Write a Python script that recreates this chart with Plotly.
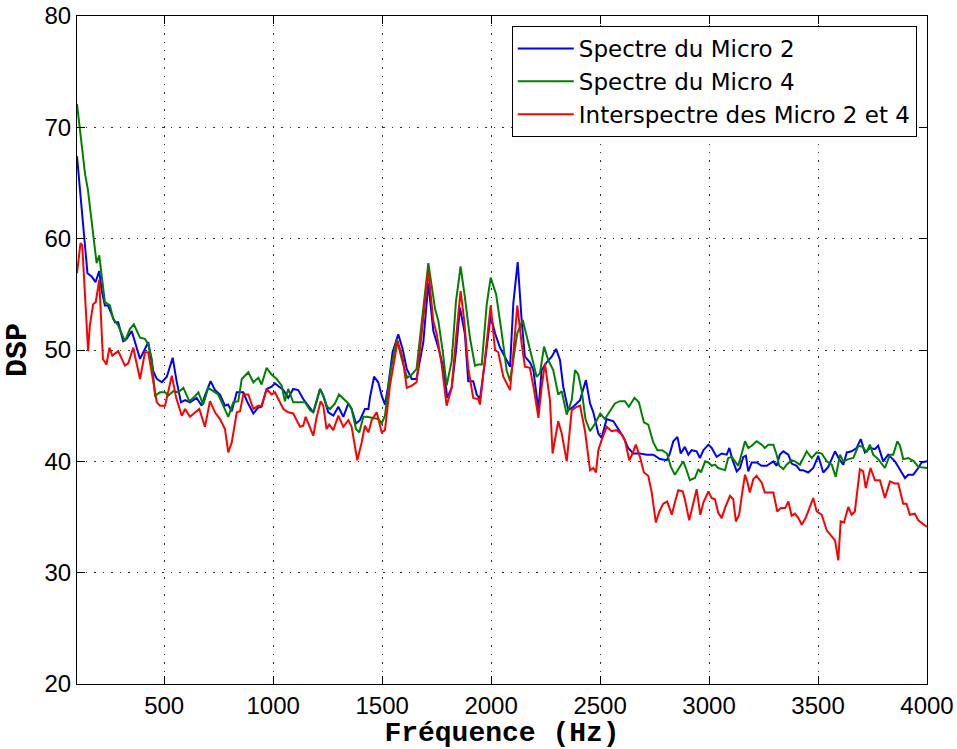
import plotly.graph_objects as go

# Spectre du Micro 2 (Hz, dB)
freq_m2 = [100, 148, 167, 185, 202, 213, 228, 242, 259, 274, 289, 312, 328, 351, 389, 404, 427, 450, 466, 489,
           512, 539, 557, 577, 596, 618, 649, 672, 687, 713, 733, 756, 779, 793, 810, 833, 863, 880, 909, 930,
           947, 970, 993, 1008, 1027, 1047, 1069, 1092, 1115, 1138, 1161, 1184, 1215, 1230, 1253, 1276, 1299, 1322, 1345, 1360,
           1380, 1398, 1421, 1437, 1444, 1463, 1482, 1498, 1513, 1528, 1548, 1574, 1594, 1613, 1636, 1658, 1689, 1712, 1735, 1758,
           1781, 1799, 1819, 1839, 1857, 1880, 1895, 1918, 1934, 1949, 1972, 1998, 2018, 2041, 2071, 2087, 2102, 2122, 2140, 2155,
           2178, 2194, 2217, 2232, 2255, 2278, 2298, 2316, 2331, 2354, 2377, 2408, 2435, 2454, 2469, 2492, 2507, 2530, 2561, 2583,
           2606, 2629, 2652, 2683, 2714, 2744, 2775, 2806, 2820, 2836, 2855, 2870, 2889, 2905, 2920, 2943, 2958, 2974, 2997, 3012,
           3035, 3058, 3081, 3093, 3108, 3127, 3142, 3157, 3169, 3180, 3196, 3218, 3241, 3264, 3295, 3310, 3325, 3341, 3364, 3379,
           3402, 3417, 3432, 3455, 3478, 3501, 3524, 3547, 3578, 3597, 3616, 3632, 3654, 3677, 3696, 3715, 3738, 3761, 3776, 3799,
           3822, 3853, 3876, 3899, 3914, 3937, 3960, 3975, 4000]
dsp_m2 = [67.4, 56.9, 56.6, 56.1, 57.1, 55.4, 54.0, 54.0, 53.2, 52.5, 52.5, 50.8, 51.0, 51.7, 49.2, 49.8, 50.7, 48.1, 47.4, 47.1,
          47.6, 49.3, 47.2, 45.3, 45.5, 45.3, 45.7, 45.0, 45.9, 47.2, 46.4, 46.0, 45.0, 45.1, 44.5, 46.2, 46.2, 45.4, 44.3, 44.8,
          44.9, 46.5, 46.7, 47.0, 46.7, 46.4, 45.7, 46.5, 46.4, 45.6, 45.0, 44.4, 46.5, 45.9, 44.4, 44.1, 44.9, 44.0, 45.2, 44.7,
          43.4, 43.7, 44.7, 44.7, 45.7, 47.6, 47.1, 45.9, 45.1, 46.8, 49.8, 51.4, 50.1, 48.3, 47.4, 47.4, 50.7, 56.0, 51.7, 50.2,
          48.4, 45.7, 46.6, 49.9, 53.8, 51.4, 47.2, 47.2, 46.0, 45.6, 49.0, 53.1, 51.5, 50.2, 49.1, 48.5, 54.2, 57.9, 52.7, 49.4,
          48.9, 48.2, 44.6, 48.2, 48.9, 49.4, 50.1, 49.1, 46.7, 44.6, 44.9, 45.5, 47.3, 45.2, 44.4, 42.5, 42.1, 43.8, 43.6, 42.9,
          42.2, 41.2, 40.7, 40.7, 40.6, 40.6, 40.2, 40.1, 40.7, 41.8, 42.2, 40.7, 41.3, 40.6, 41.0, 40.9, 40.3, 41.0, 41.5, 41.2,
          40.4, 40.7, 40.6, 41.2, 40.1, 39.1, 39.4, 40.4, 40.5, 39.1, 39.9, 39.9, 39.6, 39.6, 40.0, 39.6, 40.6, 40.9, 40.6, 39.8,
          39.6, 39.2, 39.2, 39.0, 39.4, 40.5, 39.0, 39.5, 40.9, 40.2, 39.7, 40.8, 40.9, 41.2, 42.0, 40.8, 41.2, 41.1, 41.4, 40.0,
          40.6, 40.0, 39.2, 38.5, 38.8, 38.8, 39.4, 39.9, 40.0]

# Spectre du Micro 4 (Hz, dB)
freq_m4 = [100, 137, 150, 175, 190, 202, 216, 228, 251, 266, 289, 305, 320, 343, 361, 389, 412, 427, 443, 458,
           481, 504, 519, 542, 565, 588, 615, 634, 657, 679, 702, 725, 748, 771, 794, 817, 840, 856, 886, 909,
           932, 947, 970, 993, 1016, 1039, 1054, 1069, 1092, 1123, 1146, 1169, 1184, 1200, 1215, 1230, 1248, 1261, 1284, 1302,
           1322, 1345, 1360, 1380, 1395, 1414, 1429, 1452, 1482, 1498, 1513, 1536, 1567, 1590, 1615, 1636, 1658, 1712, 1743, 1758,
           1778, 1796, 1819, 1839, 1860, 1880, 1903, 1926, 1941, 1957, 1980, 1998, 2023, 2049, 2071, 2087, 2102, 2120, 2145, 2163,
           2191, 2209, 2224, 2243, 2262, 2285, 2308, 2324, 2347, 2370, 2385, 2400, 2416, 2433, 2454, 2477, 2501, 2522, 2545, 2568,
           2591, 2614, 2632, 2658, 2678, 2701, 2721, 2744, 2763, 2784, 2807, 2825, 2843, 2859, 2882, 2897, 2912, 2935, 2951, 2963,
           2982, 2997, 3012, 3027, 3042, 3058, 3073, 3088, 3104, 3119, 3134, 3150, 3165, 3180, 3196, 3218, 3241, 3256, 3272, 3295,
           3310, 3322, 3341, 3356, 3379, 3394, 3417, 3448, 3471, 3494, 3517, 3540, 3563, 3581, 3601, 3616, 3639, 3662, 3685, 3705,
           3723, 3738, 3753, 3776, 3807, 3830, 3845, 3864, 3876, 3891, 3914, 3940, 3960, 4000]
dsp_m4 = [72.1, 65.8, 64.4, 60.3, 57.8, 58.5, 56.0, 54.3, 54.0, 52.8, 52.2, 51.5, 50.8, 51.9, 52.3, 51.1, 51.0, 50.5, 49.2, 45.9,
          46.2, 46.2, 45.9, 46.3, 46.2, 46.6, 45.4, 45.7, 46.2, 45.1, 46.6, 46.3, 46.0, 45.0, 44.0, 45.3, 45.4, 47.4, 48.0, 47.1,
          47.5, 46.9, 48.4, 47.8, 47.4, 46.8, 45.4, 46.5, 45.3, 45.3, 45.3, 44.6, 44.4, 45.4, 46.5, 45.9, 44.9, 44.7, 45.2, 46.0,
          45.6, 45.2, 44.7, 42.9, 42.6, 44.0, 44.0, 43.9, 43.8, 43.4, 44.1, 47.8, 51.0, 49.2, 47.5, 47.8, 48.3, 57.8, 53.7, 52.6,
          49.9, 46.8, 49.0, 54.4, 57.5, 54.7, 51.1, 48.6, 48.7, 48.7, 54.1, 56.5, 55.0, 51.5, 48.2, 47.2, 49.1, 51.5, 52.7, 51.3,
          49.1, 47.6, 47.9, 50.3, 49.1, 48.2, 46.0, 46.3, 44.2, 45.5, 48.2, 47.8, 46.3, 43.8, 42.7, 43.4, 44.3, 43.8, 44.5, 45.2,
          45.4, 45.4, 44.9, 45.7, 45.3, 43.5, 43.3, 41.7, 41.0, 41.0, 40.7, 39.5, 38.8, 39.3, 40.0, 39.2, 38.3, 38.5, 39.3, 39.0,
          40.0, 39.9, 39.6, 39.7, 39.4, 39.3, 39.2, 40.3, 40.4, 40.0, 39.6, 40.7, 41.8, 41.2, 41.4, 41.8, 41.5, 41.2, 41.5, 41.5,
          40.6, 39.6, 39.3, 39.7, 40.1, 40.0, 39.7, 40.9, 40.3, 40.8, 40.7, 40.0, 39.7, 38.6, 40.6, 40.0, 40.2, 40.3, 41.4, 41.3,
          40.8, 41.5, 40.6, 40.2, 39.4, 40.6, 40.6, 41.8, 41.4, 40.2, 40.3, 40.0, 39.5, 39.4]

# Interspectre des Micro 2 et 4 (Hz, dB)
freq_inter = [100, 116, 124, 151, 159, 174, 186, 202, 219, 235, 249, 262, 289, 320, 335, 358, 389, 412, 427, 466,
              481, 504, 535, 555, 581, 596, 618, 641, 661, 687, 710, 733, 756, 779, 794, 810, 833, 848, 863, 886,
              909, 932, 947, 970, 993, 1008, 1028, 1047, 1069, 1092, 1123, 1138, 1149, 1166, 1184, 1200, 1218, 1230, 1245, 1257,
              1276, 1299, 1322, 1345, 1360, 1386, 1406, 1421, 1437, 1452, 1475, 1498, 1513, 1536, 1571, 1594, 1613, 1636, 1658, 1712,
              1735, 1751, 1773, 1796, 1819, 1839, 1860, 1877, 1895, 1918, 1941, 1949, 1972, 1998, 2018, 2033, 2056, 2087, 2102, 2120,
              2140, 2155, 2178, 2197, 2217, 2232, 2247, 2270, 2282, 2308, 2324, 2347, 2370, 2393, 2408, 2431, 2454, 2469, 2481, 2492,
              2507, 2530, 2553, 2576, 2599, 2614, 2634, 2649, 2664, 2683, 2701, 2721, 2737, 2756, 2772, 2790, 2808, 2829, 2843, 2859,
              2879, 2889, 2909, 2925, 2943, 2960, 2974, 2997, 3012, 3027, 3042, 3058, 3073, 3096, 3111, 3123, 3138, 3150, 3165, 3175,
              3187, 3203, 3218, 3241, 3256, 3272, 3295, 3313, 3329, 3349, 3364, 3379, 3394, 3410, 3425, 3443, 3458, 3478, 3494, 3517,
              3540, 3563, 3578, 3593, 3604, 3619, 3639, 3654, 3669, 3692, 3707, 3719, 3741, 3761, 3784, 3807, 3830, 3853, 3868, 3891,
              3906, 3921, 3944, 3960, 4000]
dsp_inter = [56.9, 59.6, 59.4, 49.9, 52.2, 54.1, 54.3, 56.3, 49.2, 48.7, 50.2, 49.5, 49.9, 48.6, 48.8, 50.2, 47.4, 49.8, 49.8, 45.3,
             45.0, 45.0, 47.7, 45.7, 44.1, 44.7, 44.0, 44.4, 44.7, 43.1, 45.4, 44.4, 43.8, 42.9, 40.8, 41.7, 44.4, 44.5, 46.0, 46.0,
             44.7, 45.0, 45.0, 46.5, 46.0, 46.2, 45.4, 44.7, 44.4, 44.3, 43.1, 43.2, 44.0, 43.2, 42.3, 44.0, 45.4, 45.0, 42.9, 43.3,
             42.8, 44.1, 43.1, 43.7, 43.1, 40.1, 41.7, 43.2, 42.6, 43.7, 44.4, 42.6, 42.8, 46.8, 50.8, 49.3, 46.6, 46.8, 47.1, 57.1,
             52.6, 51.4, 48.7, 45.0, 46.6, 51.1, 55.3, 52.6, 48.4, 45.7, 45.6, 45.1, 49.5, 54.0, 50.0, 49.8, 47.6, 46.4, 49.7, 54.0,
             50.6, 48.5, 48.4, 46.4, 43.9, 46.7, 48.8, 45.5, 40.7, 43.6, 42.5, 40.0, 44.6, 44.9, 45.0, 42.7, 39.2, 39.4, 39.0, 41.0,
             41.9, 43.1, 42.7, 42.8, 42.4, 41.9, 40.1, 40.7, 41.5, 40.4, 39.0, 38.7, 37.2, 34.5, 35.5, 36.2, 36.4, 35.2, 36.3, 37.4,
             37.3, 36.6, 34.7, 36.1, 37.5, 35.2, 36.3, 37.3, 36.7, 36.6, 35.4, 34.9, 35.8, 36.9, 36.6, 34.6, 35.2, 36.9, 38.8, 38.2,
             37.2, 38.4, 38.7, 38.1, 37.2, 37.2, 37.2, 35.5, 35.8, 35.8, 36.4, 35.1, 35.3, 34.9, 34.3, 34.9, 35.6, 36.7, 35.5, 35.2,
             33.8, 33.2, 32.9, 31.1, 34.6, 34.5, 35.9, 35.2, 35.5, 39.3, 39.1, 37.6, 39.4, 38.3, 38.3, 36.7, 38.2, 38.0, 38.0, 36.2,
             36.2, 35.2, 35.3, 34.7, 34.1]

x_ticks = [500, 1000, 1500, 2000, 2500, 3000, 3500, 4000]
y_ticks = [20, 30, 40, 50, 60, 70, 80]

series = [
    ("Spectre du Micro 2", freq_m2, dsp_m2, "#0000ff"),
    ("Spectre du Micro 4", freq_m4, dsp_m4, "#008000"),
    ("Interspectre des Micro 2 et 4", freq_inter, dsp_inter, "#ff0000"),
]

fig = go.Figure()
for name, fx, fy, color in series:
    fig.add_trace(go.Scatter(x=fx, y=fy, mode="lines", name=name,
                             line=dict(color=color, width=2)))

sans = "Liberation Sans, Arial, sans-serif"
mono = "Liberation Mono, Courier New, monospace"

axis_common = dict(
    showline=True, linecolor="black", linewidth=1, mirror="ticks",
    ticks="inside", ticklen=8, tickcolor="black", tickwidth=1,
    showgrid=True, gridcolor="#333333", griddash="1.5px,7px", gridwidth=1,
    zeroline=False, automargin=False,
    tickfont=dict(family=sans, size=24, color="black"),
)

fig.update_xaxes(range=[100, 4000], tickvals=x_ticks,
                 title=dict(text="Fréquence (Hz)", standoff=13,
                            font=dict(family=mono, size=28, color="black", weight="bold")),
                 **axis_common)
fig.update_yaxes(range=[20, 80], tickvals=y_ticks,
                 title=dict(text="DSP", standoff=8,
                            font=dict(family=mono, size=30, color="black", weight="bold")),
                 **axis_common)

fig.update_layout(
    width=957, height=749,
    margin=dict(l=77, r=30, t=16, b=65),
    plot_bgcolor="white", paper_bgcolor="white",
    legend=dict(x=0.988, y=0.985, xanchor="right", yanchor="top",
                bgcolor="white", bordercolor="black", borderwidth=1,
                font=dict(family="DejaVu Sans, sans-serif", size=23, color="black"),
                itemwidth=56, tracegroupgap=0),
)

fig.write_html("out.html")
